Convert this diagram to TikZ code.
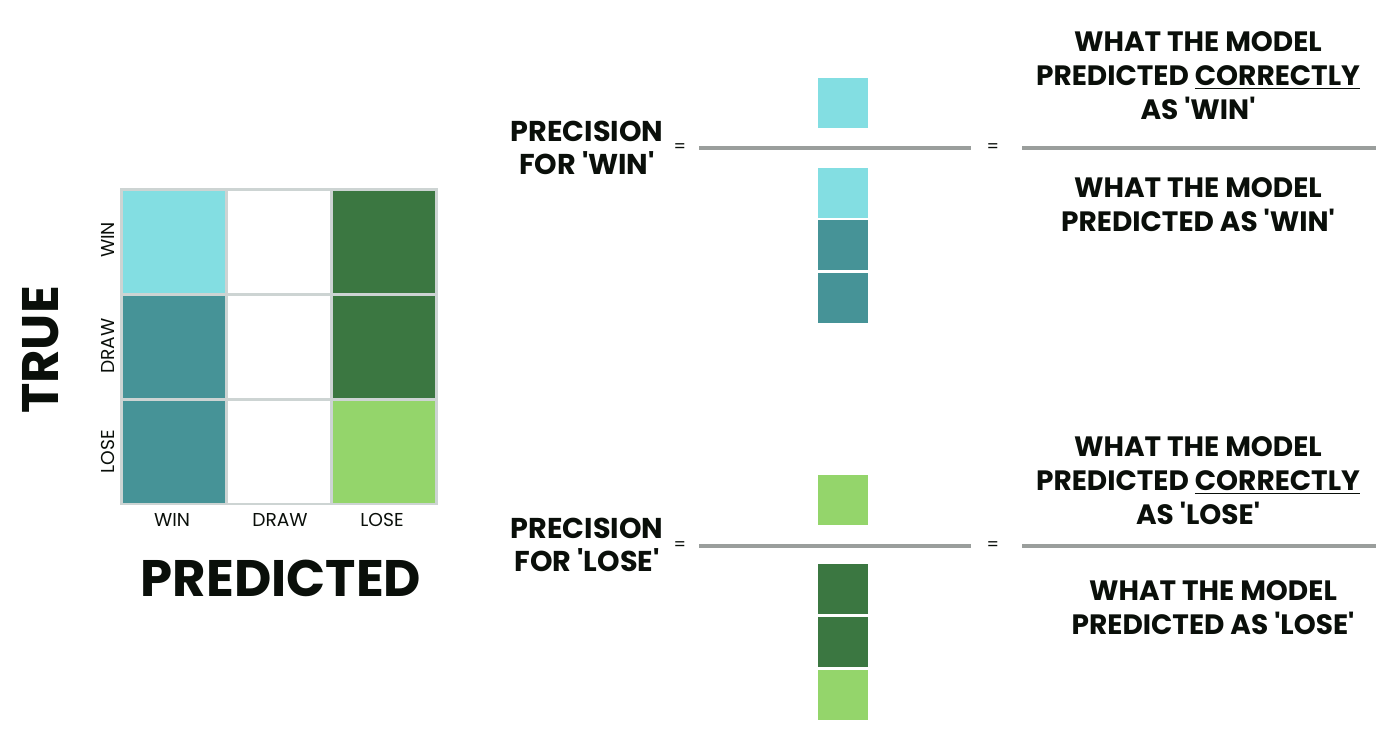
\documentclass[tikz,border=0pt]{standalone}
\usepackage{fontspec}
\setmainfont{Poppins}
\newcommand{\sq}{\textquotesingle}
\definecolor{cyanL}{HTML}{83DEE2}
\definecolor{tealD}{HTML}{469397}
\definecolor{greenD}{HTML}{3B7741}
\definecolor{greenL}{HTML}{94D56B}
\definecolor{frameG}{HTML}{CDD4D3}
\definecolor{lineG}{HTML}{9A9E9C}
\definecolor{ink}{HTML}{0A0F0A}
\tikzset{
  cell/.style={minimum width=76.5pt,minimum height=76.5pt,inner sep=0pt,outer sep=0pt},
  sqbox/.style={minimum width=37.5pt,minimum height=37.5pt,inner sep=0pt,outer sep=0pt},
  axlab/.style={font=\fontsize{14}{17}\selectfont,text=ink,inner sep=0pt},
  big/.style={font=\fontsize{38.5}{44}\selectfont\bfseries,text=ink,inner sep=0pt},
  prec/.style={font=\fontsize{21.5}{24.75}\selectfont\bfseries,text=ink,align=center,inner sep=0pt},
  desc/.style={font=\fontsize{21}{25.5}\selectfont\bfseries,text=ink,align=center,inner sep=0pt},
  eq/.style={font=\fontsize{13}{15}\selectfont,text=ink,inner sep=0pt},
  frac/.style={draw=lineG,line width=3pt}
}
\begin{document}
\begin{tikzpicture}[x=0.75pt,y=-0.75pt]
\useasboundingbox (0,0) rectangle (1400,736);
% confusion matrix frame
\fill[frameG] (120,188) rectangle (438,505);
\node[cell,fill=cyanL]  (c11) at (173.5,242) {};
\node[cell,fill=white]  (c12) at (278.5,242) {};
\node[cell,fill=greenD] (c13) at (383.5,242) {};
\node[cell,fill=tealD]  (c21) at (173.5,346.5) {};
\node[cell,fill=white]  (c22) at (278.5,346.5) {};
\node[cell,fill=greenD] (c23) at (383.5,346.5) {};
\node[cell,fill=tealD]  (c31) at (173.5,451.5) {};
\node[cell,fill=white]  (c32) at (278.5,451.5) {};
\node[cell,fill=greenL] (c33) at (383.5,451.5) {};
% row labels
\node[axlab,rotate=90] (rwin)  at (108,240) {WIN};
\node[axlab,rotate=90] (rdraw) at (108,346) {DRAW};
\node[axlab,rotate=90] (rlose) at (108,452) {LOSE};
% column labels
\node[axlab] (kwin)  at (172,520) {WIN};
\node[axlab] (kdraw) at (280,520) {DRAW};
\node[axlab] (klose) at (382,520) {LOSE};
% axis titles
\node[big,rotate=90] (true) at (41,350) {TRUE};
\node[big] (pred) at (281,578) {PREDICTED};
% ---- precision for WIN ----
\node[prec] (pwin) at (587,148) {PRECISION\\FOR \sq WIN\sq};
\node[eq] (eqa) at (680,148) {=};
\coordinate (fa1) at (699,148);
\coordinate (fa2) at (971,148);
\draw[frac] (fa1) -- (fa2);
\node[eq] (eqb) at (993,148) {=};
\node[sqbox,fill=cyanL] (wt) at (843,102.5) {};
\node[sqbox,fill=cyanL] (wb1) at (842.5,192.5) {};
\node[sqbox,fill=tealD] (wb2) at (842.5,245) {};
\node[sqbox,fill=tealD] (wb3) at (842.5,297.5) {};
\node[desc] (wnum) at (1198,76) {WHAT THE MODEL\\PREDICTED \underline{CORRECTLY}\\AS \sq WIN\sq};
\coordinate (fb1) at (1022,148);
\coordinate (fb2) at (1376,148);
\draw[frac] (fb1) -- (fb2);
\node[desc] (wden) at (1198,205) {WHAT THE MODEL\\PREDICTED AS \sq WIN\sq};
% ---- precision for LOSE ----
\node[prec] (plose) at (587,545) {PRECISION\\FOR \sq LOSE\sq};
\node[eq] (eqc) at (680,546) {=};
\coordinate (fc1) at (699,546);
\coordinate (fc2) at (971,546);
\draw[frac] (fc1) -- (fc2);
\node[eq] (eqd) at (993,546) {=};
\node[sqbox,fill=greenL] (lt) at (843,500) {};
\node[sqbox,fill=greenD] (lb1) at (842.5,589) {};
\node[sqbox,fill=greenD] (lb2) at (842.5,642) {};
\node[sqbox,fill=greenL] (lb3) at (842.5,695) {};
\node[desc] (lnum) at (1198,481) {WHAT THE MODEL\\PREDICTED \underline{CORRECTLY}\\AS \sq LOSE\sq};
\coordinate (fd1) at (1022,546);
\coordinate (fd2) at (1376,546);
\draw[frac] (fd1) -- (fd2);
\node[desc] (lden) at (1213,608) {WHAT THE MODEL\\PREDICTED AS \sq LOSE\sq};
\end{tikzpicture}
\end{document}
